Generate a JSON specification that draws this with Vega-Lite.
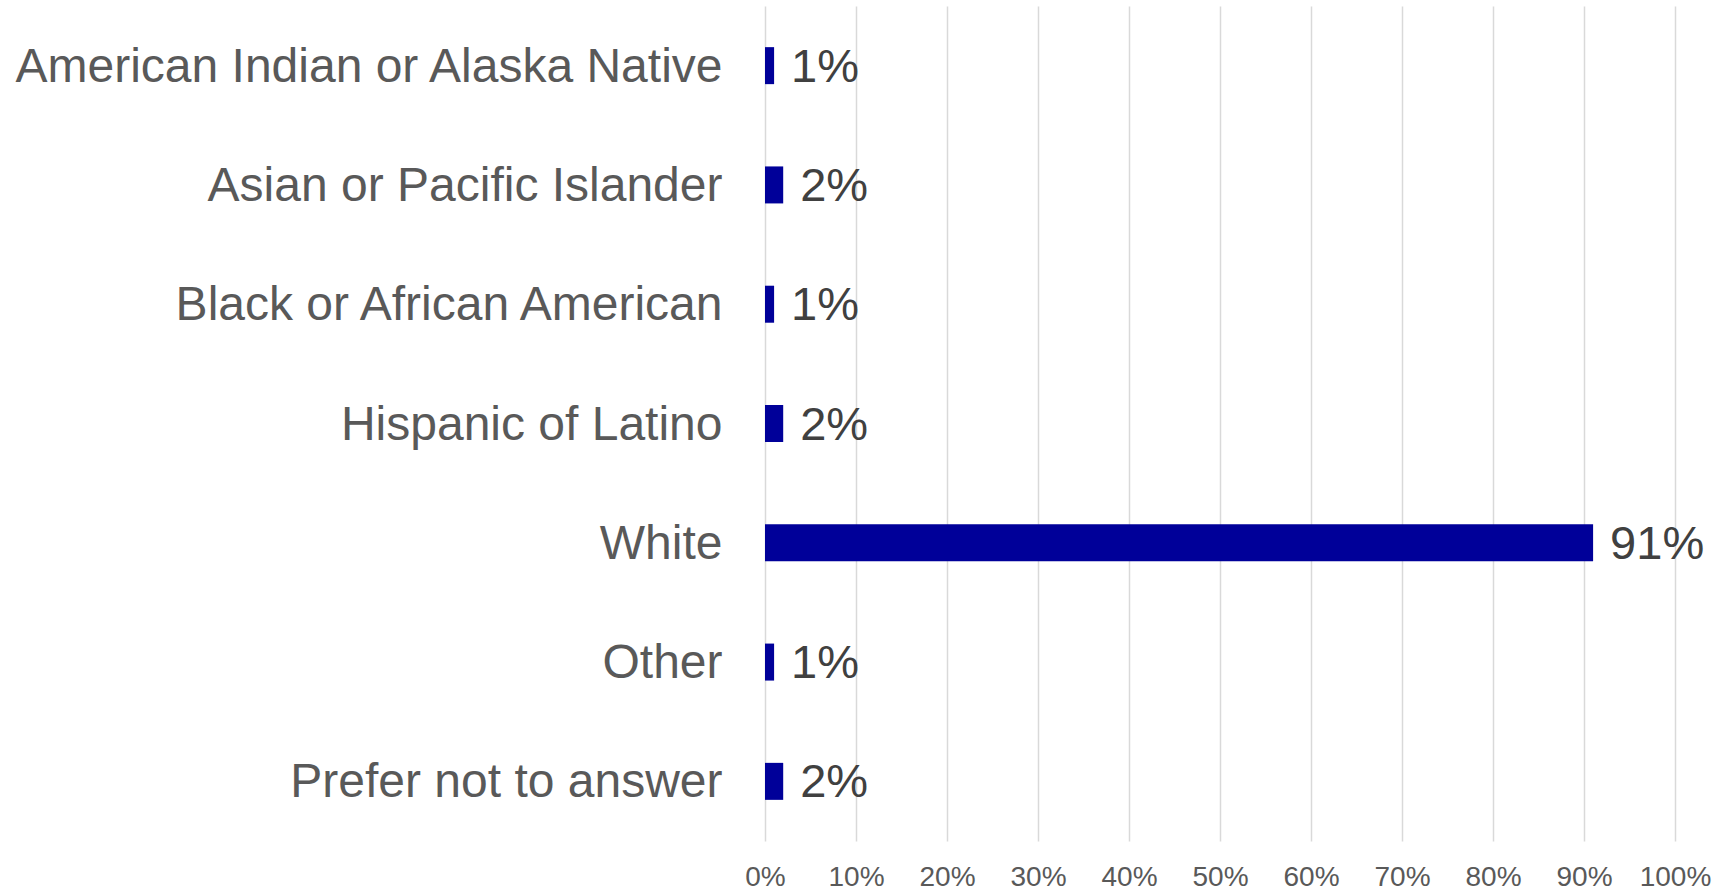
{
  "$schema": "https://vega.github.io/schema/vega-lite/v6.json",
  "width": 910,
  "height": 835,
  "autosize": {"type": "none"},
  "padding": {"left": 765, "top": 6, "right": 61, "bottom": 52},
  "background": "white",
  "config": {"view": {"stroke": null}, "font": "Liberation Sans"},
  "data": {
    "values": [
      {"group": "American Indian or Alaska Native", "share": 0.01},
      {"group": "Asian or Pacific Islander", "share": 0.02},
      {"group": "Black or African American", "share": 0.01},
      {"group": "Hispanic of Latino", "share": 0.02},
      {"group": "White", "share": 0.91},
      {"group": "Other", "share": 0.01},
      {"group": "Prefer not to answer", "share": 0.02}
    ]
  },
  "encoding": {
    "y": {
      "field": "group",
      "type": "nominal",
      "sort": null,
      "title": null,
      "axis": {
        "domain": false,
        "ticks": false,
        "grid": false,
        "labelFont": "Liberation Sans",
        "labelFontSize": 48,
        "labelColor": "#595959",
        "labelPadding": 43,
        "labelOffset": 2,
        "labelLimit": 1000
      }
    },
    "x": {
      "field": "share",
      "type": "quantitative",
      "title": null,
      "scale": {"domain": [0, 1], "nice": false},
      "axis": {
        "format": ".0%",
        "values": [0, 0.1, 0.2, 0.3, 0.4, 0.5, 0.6, 0.7, 0.8, 0.9, 1],
        "domain": false,
        "ticks": false,
        "grid": true,
        "gridColor": "#d9d9d9",
        "gridWidth": 1.5,
        "labelFont": "Liberation Sans",
        "labelFontSize": 28,
        "labelColor": "#595959",
        "labelPadding": 22,
        "labelFlush": false
      }
    }
  },
  "layer": [
    {"mark": {"type": "bar", "color": "#000099", "size": 37}},
    {
      "mark": {"type": "text", "align": "left", "baseline": "middle", "dx": 17, "dy": 2, "fontSize": 47, "color": "#404040", "font": "Liberation Sans"},
      "encoding": {"text": {"field": "share", "type": "quantitative", "format": ".0%"}}
    }
  ]
}
